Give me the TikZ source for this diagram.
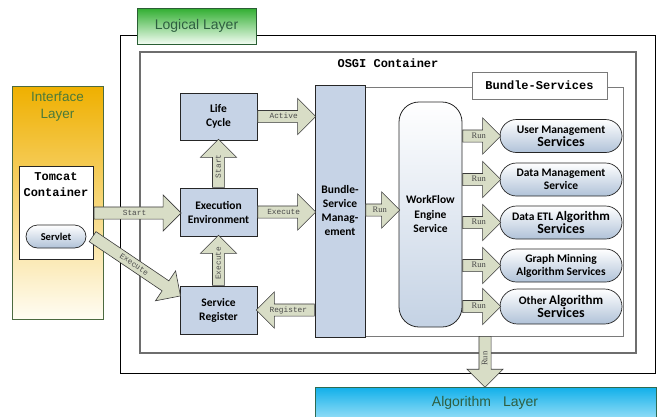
\documentclass[tikz,border=0pt]{standalone}
\usepackage{fontspec}
\setmainfont{Carlito}
\newfontfamily\monof{Liberation Mono}
\newfontfamily\arialf{Liberation Sans}
\newfontfamily\timesf{Liberation Serif}
\usetikzlibrary{shapes.arrows,shapes.misc,calc}
\definecolor{boxblue}{HTML}{C6D3E6}
\definecolor{boxline}{HTML}{262626}
\definecolor{arrfill}{HTML}{D8DDC6}
\definecolor{arrline}{HTML}{3A3A3A}
\definecolor{lblgray}{HTML}{4A4A4A}
\definecolor{layertext}{HTML}{2E5E40}
\definecolor{iftext}{HTML}{4A7A3A}
\definecolor{lgtop}{HTML}{30AE30}
\definecolor{lgbot}{HTML}{F2FCF2}
\definecolor{lgline}{HTML}{2A5E34}
\definecolor{iftop}{HTML}{EFB000}
\definecolor{ifmid}{HTML}{FBDF88}
\definecolor{ifbot}{HTML}{FFFDF4}
\definecolor{ifline}{HTML}{4C6A40}
\definecolor{algtop}{HTML}{12B0EA}
\definecolor{algbot}{HTML}{C8F0FC}
\definecolor{algline}{HTML}{2E6A50}
\definecolor{osgiline}{HTML}{6E6E6E}
\definecolor{frameline}{HTML}{7A7A7A}
\definecolor{pillbot}{HTML}{B0C2D8}
\definecolor{wfbot}{HTML}{C4D2E4}
\begin{document}
\begin{tikzpicture}[x=1pt,y=-1pt,
  bluebox/.style={draw=boxline, fill=boxblue, line width=0.8pt, align=center,
    font=\fontsize{11.5}{14}\selectfont\bfseries, inner sep=0pt},
  pill/.style={rounded rectangle, draw=boxline, line width=0.7pt, top color=white,
    bottom color=pillbot, align=center, inner sep=0pt,
    font=\fontsize{11.5}{13}\selectfont\bfseries},
  arr/.style={single arrow, draw=arrline, fill=arrfill, line width=0.6pt,
    single arrow head extend=12pt, inner xsep=0pt, inner ysep=2.5pt,
    text height=5.5pt, text depth=1pt, text=lblgray,
    font=\monof\fontsize{7.8}{8}\selectfont},
  runarr/.style={arr, font=\timesf\fontsize{8.5}{9}\selectfont},
  monotitle/.style={font=\monof\bfseries\fontsize{12}{14}\selectfont, align=center},
  layerlbl/.style={font=\arialf\fontsize{14}{17}\selectfont, align=center, text=layertext}]
\useasboundingbox (0,0) rectangle (657,416);

% Algorithm layer
\node[draw=algline, line width=0.8pt, top color=algtop, bottom color=algbot,
  minimum width=341pt, minimum height=44pt, anchor=north west, inner sep=0pt] (alg) at (315,387) {};
\node[layerlbl] (algtext) at (485,403) {Algorithm\hspace{12pt}Layer};

% Logical container
\draw[line width=0.9pt] (120,35) rectangle (655,373);
\node[layerlbl, draw=lgline, line width=0.8pt, top color=lgtop, bottom color=lgbot,
  minimum width=119pt, minimum height=36pt, inner sep=0pt] (logical) at (196.5,26) {Logical\hspace{4pt}Layer};

% OSGI container
\draw[osgiline, line width=1.2pt] (140,52) rectangle (636,353);
\node[monotitle] (osgi) at (388,63) {OSGI Container};

% Bundle-Services frame
\draw[frameline, line width=1pt] (365,87) rectangle (623,336);
\node[monotitle, draw=frameline, line width=0.8pt, fill=white, minimum width=135pt,
  minimum height=27pt, inner sep=0pt] (bs) at (539.5,85.5) {Bundle-Services};

% Bundle-Service Management
\node[bluebox, minimum width=50pt, minimum height=252pt] (bsm) at (340,211) {Bundle-\\Service\\Manag-\\ement};

% Left boxes
\node[bluebox, minimum width=77pt, minimum height=47pt] (lc) at (218.5,116.5) {Life\\Cycle};
\node[bluebox, minimum width=77pt, minimum height=48pt] (exec) at (218.5,212) {Execution\\Environment};
\node[bluebox, minimum width=77pt, minimum height=48pt] (reg) at (218.5,310) {Service\\Register};

% Interface layer
\node[draw=ifline, line width=0.8pt, top color=iftop, middle color=ifmid, bottom color=ifbot,
  minimum width=91pt, minimum height=233pt, anchor=north west, inner sep=0pt] (iface) at (12,86) {};
\node[font=\arialf\fontsize{13.5}{17}\selectfont, text=iftext, align=center] (ifacetext) at (57.5,107) {Interface\\Layer};
\node[draw=boxline, line width=0.8pt, fill=white, minimum width=74pt, minimum height=93pt,
  anchor=north west, inner sep=0pt] (tomcat) at (19,166) {};
\node[monotitle, font=\monof\bfseries\fontsize{12}{16}\selectfont] (tomcattext) at (56,185) {Tomcat\\Container};
\node[pill, minimum width=60pt, minimum height=23pt, font=\fontsize{10.5}{12}\selectfont\bfseries] (servlet) at (56,236.5) {Servlet};

% WorkFlow engine
\node[draw=boxline, line width=0.8pt, rounded corners=20pt, top color=white, bottom color=wfbot,
  minimum width=63pt, minimum height=225pt, align=center, inner sep=0pt,
  font=\fontsize{11.5}{14.5}\selectfont\bfseries] (wf) at (430.5,214.5) {WorkFlow\\Engine\\Service};

% Service pills
\node[pill, minimum width=122pt, minimum height=33pt] (p1) at (561,136)
  {User Management\\{\fontsize{14}{15}\selectfont Services}};
\node[pill, minimum width=122pt, minimum height=33pt] (p2) at (561,179.5)
  {Data Management\\Service};
\node[pill, minimum width=122pt, minimum height=33pt] (p3) at (561,222.5)
  {Data ETL {\fontsize{13}{14}\selectfont Algorithm}\\{\fontsize{14}{15}\selectfont Services}};
\node[pill, minimum width=122pt, minimum height=33pt] (p4) at (561,265.5)
  {Graph Minning\\Algorithm Services};
\node[pill, minimum width=122pt, minimum height=35pt] (p5) at (561,306.5)
  {Other {\fontsize{13}{14}\selectfont Algorithm}\\{\fontsize{14}{15}\selectfont Services}};

% Block arrows
\node[arr, minimum height=87pt, anchor=tail] (aStart) at (tomcat.east |- 0,213) {Start};
\node[arr, minimum height=106pt, rotate=-34, anchor=tail] (aExecD) at ($(servlet.east)+(6,0)$) {Execute};
\node[arr, minimum height=58pt, anchor=tail] (aActive) at (lc.east) {Active};
\node[arr, minimum height=58pt, anchor=tail] (aExecH) at (exec.east) {Execute};
\node[arr, shape border rotate=180, minimum height=58pt, anchor=tail] (aReg) at (bsm.west |- reg.east) {Register};
\node[arr, rotate=90, minimum height=48pt, anchor=tail] (aStartUp) at (exec.north) {Start};
\node[arr, rotate=90, minimum height=50pt, anchor=tail] (aExecUp) at (reg.north) {Execute};
\node[runarr, minimum height=34pt, anchor=tail] (aRun) at (bsm.east |- 0,210) {Run};
\foreach \p in {p1,p2,p3,p4,p5}{
  \node[runarr, minimum height=38pt, anchor=tail] (aRun\p) at (wf.east |- \p.west) {Run};
}
\node[runarr, rotate=90, shape border rotate=180, minimum height=51pt, anchor=tail] (aRunDown) at (485,336) {Run};
\end{tikzpicture}
\end{document}
